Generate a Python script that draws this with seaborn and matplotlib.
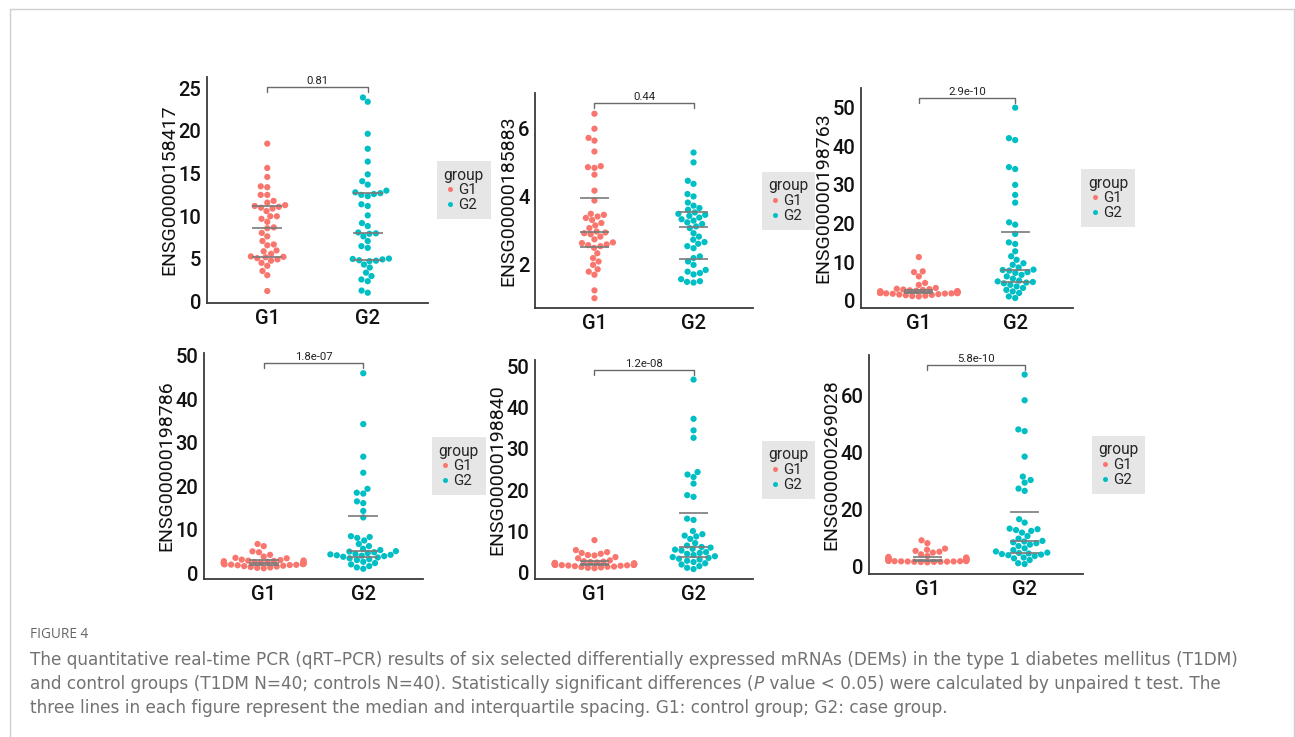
import numpy as np
import pandas as pd
import matplotlib
matplotlib.use("Agg")
import matplotlib.pyplot as plt
import seaborn as sns
from matplotlib.lines import Line2D

# ---------------- data ----------------
groups = ["G1", "G2"]
genes = ["ENSG00000158417", "ENSG00000185883", "ENSG00000198763",
         "ENSG00000198786", "ENSG00000198840", "ENSG00000269028"]
p_values = ["0.81", "0.44", "2.9e-10", "1.8e-07", "1.2e-08", "5.8e-10"]

g1_158417 = [1.25, 3.1, 3.6, 4.2, 4.55, 4.8, 4.95, 5.1, 5.2, 5.25, 5.3, 5.6, 5.9, 6.0,
             6.6, 6.7, 7.1, 7.65, 8.05, 8.6, 8.7, 9.35, 9.7, 10.0, 10.0, 10.6, 10.9,
             11.0, 11.1, 11.2, 11.3, 11.6, 11.8, 12.5, 12.5, 13.4, 13.5, 14.6, 15.65, 18.5]
g2_158417 = [1.05, 1.3, 2.4, 2.6, 3.0, 3.4, 4.0, 4.35, 4.75, 4.8, 4.85, 4.95, 5.0, 5.05,
             6.3, 6.5, 7.1, 7.65, 7.95, 8.0, 8.1, 8.85, 9.2, 10.1, 11.2, 11.4, 12.35,
             12.5, 12.6, 12.7, 12.8, 13.0, 13.7, 14.1, 14.9, 16.4, 17.9, 19.65, 23.4, 23.9]

g1_185883 = [1.02, 1.25, 1.71, 1.8, 1.87, 2.0, 2.1, 2.2, 2.34, 2.5, 2.55, 2.58, 2.6, 2.64,
             2.66, 2.75, 2.83, 2.9, 2.93, 2.95, 2.98, 3.08, 3.16, 3.23, 3.32, 3.38, 3.42,
             3.47, 3.5, 3.89, 4.18, 4.65, 4.85, 4.87, 4.9, 5.33, 5.65, 5.73, 6.0, 6.44]
g2_185883 = [1.48, 1.5, 1.52, 1.58, 1.72, 1.76, 1.8, 1.85, 2.0, 2.1, 2.2, 2.25, 2.49, 2.55,
             2.62, 2.67, 2.74, 2.83, 2.93, 3.08, 3.13, 3.2, 3.25, 3.3, 3.34, 3.39, 3.44,
             3.47, 3.5, 3.54, 3.62, 3.67, 3.74, 3.83, 4.01, 4.08, 4.38, 4.47, 5.01, 5.3]

g1_198763 = [11.3, 7.6, 7.4, 6.3, 4.6, 4.1, 3.3, 3.1, 3.0, 2.9, 2.8, 2.7, 2.6, 2.5, 2.45,
             2.4, 2.35, 2.3, 2.25, 2.2, 2.2, 2.15, 2.1, 2.1, 2.05, 2.0, 2.0, 2.0, 1.95,
             1.9, 1.9, 1.85, 1.8, 1.7, 1.6, 1.5, 1.4, 1.3, 1.2, 1.1]
g2_198763 = [0.7, 1.1, 2.0, 2.4, 2.8, 3.3, 3.7, 4.1, 4.5, 4.7, 4.85, 5.0, 5.2, 5.7, 6.3,
             6.7, 7.2, 7.4, 7.8, 7.95, 8.05, 8.6, 9.3, 9.7, 10.6, 11.5, 12.8, 14.7, 15.1,
             17.3, 19.7, 20.3, 25.4, 27.4, 30.0, 34.1, 34.6, 41.6, 42.1, 50.0]

g1_198786 = [6.7, 6.2, 5.0, 4.8, 4.2, 3.8, 3.5, 3.4, 3.1, 3.0, 2.9, 2.85, 2.8, 2.7, 2.65,
             2.6, 2.55, 2.5, 2.45, 2.4, 2.4, 2.35, 2.3, 2.25, 2.2, 2.15, 2.1, 2.05, 2.0,
             1.95, 1.9, 1.85, 1.8, 1.7, 1.6, 1.5, 1.4, 1.3, 1.2, 1.1]
g2_198786 = [1.0, 1.3, 1.6, 2.0, 2.3, 2.6, 3.0, 3.2, 3.4, 3.6, 3.75, 3.9, 4.0, 4.1, 4.2,
             4.3, 4.4, 4.6, 4.8, 4.95, 5.05, 5.3, 5.6, 6.2, 6.7, 7.5, 8.1, 8.3, 8.5, 12.8,
             14.3, 16.1, 16.5, 18.3, 18.5, 19.4, 23.1, 26.8, 34.3, 46.0]

g1_198840 = [7.9, 5.5, 5.0, 4.8, 4.6, 4.3, 4.2, 3.8, 3.5, 3.0, 2.8, 2.7, 2.6, 2.5, 2.4,
             2.3, 2.3, 2.2, 2.2, 2.15, 2.1, 2.1, 2.05, 2.0, 2.0, 2.0, 1.95, 1.9, 1.9,
             1.85, 1.8, 1.75, 1.7, 1.6, 1.5, 1.45, 1.4, 1.3, 1.2, 1.1]
g2_198840 = [0.9, 1.2, 1.6, 2.0, 2.3, 2.6, 2.9, 3.2, 3.4, 3.6, 3.8, 4.0, 4.3, 4.6, 4.8,
             5.0, 5.4, 5.6, 5.8, 6.1, 6.25, 6.6, 7.2, 8.2, 8.8, 9.0, 9.35, 10.1, 12.8,
             13.1, 18.4, 18.8, 21.6, 23.2, 23.8, 24.4, 32.7, 34.5, 37.3, 46.8]

g1_269028 = [9.3, 8.3, 6.4, 6.0, 5.6, 5.3, 5.0, 4.4, 3.8, 3.5, 3.3, 3.0, 3.0, 2.95, 2.9,
             2.85, 2.8, 2.7, 2.6, 2.55, 2.5, 2.4, 2.35, 2.3, 2.25, 2.2, 2.15, 2.1, 2.05,
             2.0, 2.0, 1.95, 1.9, 1.9, 1.85, 1.8, 1.8, 1.75, 1.7, 1.6]
g2_269028 = [1.0, 1.3, 2.4, 3.0, 3.3, 3.8, 4.1, 4.3, 4.5, 4.7, 4.85, 5.0, 5.4, 5.9, 6.5,
             7.3, 7.8, 8.3, 8.6, 8.9, 9.1, 9.9, 10.8, 12.0, 12.6, 12.9, 13.2, 13.4, 15.5,
             16.7, 26.6, 27.4, 29.5, 30.4, 31.6, 38.6, 47.5, 48.1, 58.3, 67.3]

g1_series = [g1_158417, g1_185883, g1_198763, g1_198786, g1_198840, g1_269028]
g2_series = [g2_158417, g2_185883, g2_198763, g2_198786, g2_198840, g2_269028]

yticks = [[0, 5, 10, 15, 20, 25], [2, 4, 6], [0, 10, 20, 30, 40, 50],
          [0, 10, 20, 30, 40, 50], [0, 10, 20, 30, 40, 50], [0, 20, 40, 60]]

caption_title = "FIGURE 4"
caption_line1 = ("The quantitative real-time PCR (qRT\u2013PCR) results of six selected differentially "
                 "expressed mRNAs (DEMs) in the type 1 diabetes mellitus (T1DM)")
caption_line2a = ("and control groups (T1DM N=40; controls N=40). Statistically significant "
                  "differences (")
caption_line2b = "P"
caption_line2c = " value < 0.05) were calculated by unpaired t test. The"
caption_line3 = ("three lines in each figure represent the median and interquartile spacing. "
                 "G1: control group; G2: case group.")

# ---------------- style / layout ----------------
palette = ["#F8766D", "#00BFC4"]
W, H = 1295, 737
# axes boxes in pixels: left, top, right, bottom
boxes_px = [(207, 77, 428, 303), (535, 93, 753, 308), (861, 88, 1073, 308),
            (204, 353, 423, 579), (535, 360, 753, 579), (869, 355, 1083, 574)]

sns.set_theme(style="white")
plt.rcParams["font.family"] = ["Roboto", "DejaVu Sans"]

fig = plt.figure(figsize=(W / 100, H / 100), dpi=100)
fig.patch.set_facecolor("white")

for k in range(6):
    l, t, r, b = boxes_px[k]
    ax = fig.add_axes([l / W, 1 - b / H, (r - l) / W, (b - t) / H])
    g1 = g1_series[k]
    g2 = g2_series[k]
    df = pd.DataFrame({"group": ["G1"] * len(g1) + ["G2"] * len(g2),
                       "value": list(g1) + list(g2)})
    sns.swarmplot(data=df, x="group", y="value", hue="group", order=groups,
                  hue_order=groups, palette=palette, size=4.5, ax=ax, legend=True,
                  zorder=2, warn_thresh=1.0)
    # median & IQR lines
    for i, vals in enumerate([g1, g2]):
        q = np.percentile(vals, [25, 50, 75])
        ax.hlines(q, i - 0.15, i + 0.15, colors="#7a7a7a", lw=1.2, zorder=4)
    vmin = df["value"].min()
    vmax = df["value"].max()
    ybr = vmax * 1.05
    rng = ybr - vmin
    tk = 0.025 * rng
    ax.plot([0, 0, 1, 1], [ybr - tk, ybr, ybr, ybr - tk], color="#6a6a6a", lw=1.0,
            zorder=3)
    ax.text(0.5, ybr + 0.006 * rng, p_values[k], ha="center", va="bottom",
            fontsize=8.2, color="#222222")
    ax.set_ylim(vmin - 0.05 * rng, ybr + 0.05 * rng)
    ax.set_xlim(-0.6, 1.6)
    ax.set_yticks(yticks[k])
    ax.set_xlabel("")
    ax.set_ylabel(genes[k], fontsize=14, color="#111111", labelpad=0.5)
    for s in ["top", "right"]:
        ax.spines[s].set_visible(False)
    for s in ["left", "bottom"]:
        ax.spines[s].set_color("#3a3a3a")
        ax.spines[s].set_linewidth(1.3)
    ax.tick_params(axis="both", length=2.5, width=1, color="#3a3a3a",
                   labelsize=14.5, labelcolor="#111111", pad=1.5)
    for lab in ax.get_xticklabels() + ax.get_yticklabels():
        lab.set_fontweight("medium")
    ax.grid(False)
    ax.set_facecolor("white")
    sns.move_legend(ax, "center left", bbox_to_anchor=(1.04, 0.5), title="group",
                    frameon=True, fontsize=10.8, title_fontsize=11.2, alignment="left",
                    handletextpad=0.1, borderpad=0.45, labelspacing=0.05,
                    handlelength=0.9, borderaxespad=0, markerscale=0.8)
    leg = ax.get_legend()
    fr = leg.get_frame()
    fr.set_facecolor("#E6E6E6")
    fr.set_edgecolor("none")
    fr.set_boxstyle("square", pad=0)
    fr.set_alpha(1)

# ---------------- border ----------------
bc = "#cfcfcf"
fig.add_artist(Line2D([10 / W, 10 / W], [0, 1 - 9 / H], transform=fig.transFigure,
                      color=bc, lw=1.0))
fig.add_artist(Line2D([10 / W, 1293.5 / W], [1 - 9 / H, 1 - 9 / H],
                      transform=fig.transFigure, color=bc, lw=1.0))
fig.add_artist(Line2D([1293.5 / W, 1293.5 / W], [0, 1 - 9 / H], transform=fig.transFigure,
                      color=bc, lw=1.0))

# ---------------- caption ----------------
ccol = "#727272"
cfam = ["DejaVu Sans"]
x0 = 30 / W
fig.text(x0, 1 - 638 / H, caption_title, fontsize=9.8, color="#666666", va="baseline",
         family=["Open Sans", "DejaVu Sans"])
fig.canvas.draw()
renderer = fig.canvas.get_renderer()
probe = fig.text(x0, 1 - 665 / H, caption_line1, fontsize=10.8, color=ccol,
                 va="baseline", family=cfam)
pw = probe.get_window_extent(renderer).width
csize = 10.8 * 1208.0 / pw
probe.set_fontsize(csize)
ta = fig.text(x0, 1 - 689 / H, caption_line2a, fontsize=csize, color=ccol, va="baseline",
              family=cfam)
wa = ta.get_window_extent(renderer).width
tb = fig.text(x0 + wa / W, 1 - 689 / H, caption_line2b, fontsize=csize, color=ccol,
              va="baseline", style="italic", family=cfam)
wb = tb.get_window_extent(renderer).width
fig.text(x0 + (wa + wb) / W, 1 - 689 / H, caption_line2c, fontsize=csize, color=ccol,
         va="baseline", family=cfam)
fig.text(x0, 1 - 713 / H, caption_line3, fontsize=csize, color=ccol, va="baseline",
         family=cfam)

fig.savefig("out.png", dpi=100, facecolor="white")
